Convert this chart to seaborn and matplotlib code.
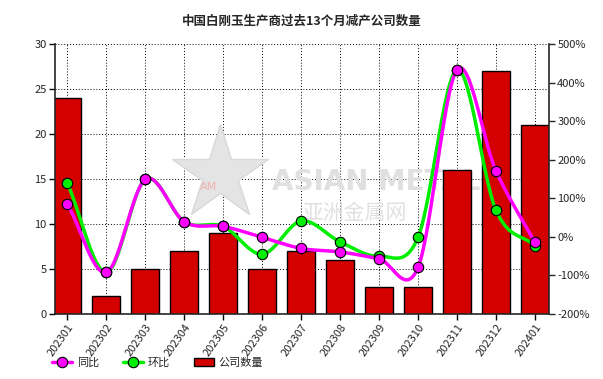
import numpy as np
import pandas as pd
import matplotlib
matplotlib.use('Agg')
import matplotlib.pyplot as plt
import seaborn as sns
from matplotlib.lines import Line2D
from matplotlib.patches import Patch
from matplotlib.ticker import FuncFormatter

months = ['202301', '202302', '202303', '202304', '202305', '202306', '202307',
          '202308', '202309', '202310', '202311', '202312', '202401']
companies = [24, 2, 5, 7, 9, 5, 7, 6, 3, 3, 16, 27, 21]
yoy = [85, -92, 149, 39, 27, -1, -30, -39, -57, -79, 433, 171, -14]   # 同比 %
mom = [139, -92, 149, 39, 27, -45, 41, -13, -50, -1, 433, 69, -23]    # 环比 %

sns.set_style('white')
plt.rcParams['font.family'] = ['Noto Sans CJK SC', 'DejaVu Sans']
plt.rcParams['axes.unicode_minus'] = False


def catmull_rom(y, n=30):
    # spline smoothing like the original chart's curved lines
    x = np.arange(len(y), dtype=float)
    y = np.asarray(y, dtype=float)
    px = np.concatenate([[2 * x[0] - x[1]], x, [2 * x[-1] - x[-2]]])
    py = np.concatenate([[2 * y[0] - y[1]], y, [2 * y[-1] - y[-2]]])
    xs, ys = [], []
    for i in range(1, len(px) - 2):
        t = np.linspace(0, 1, n, endpoint=False)
        for p, out in ((px, xs), (py, ys)):
            p0, p1, p2, p3 = p[i - 1], p[i], p[i + 1], p[i + 2]
            out.append(0.5 * ((2 * p1) + (-p0 + p2) * t + (2 * p0 - 5 * p1 + 4 * p2 - p3) * t ** 2
                              + (-p0 + 3 * p1 - 3 * p2 + p3) * t ** 3))
    xs.append([x[-1]])
    ys.append([y[-1]])
    return np.concatenate(xs), np.concatenate(ys)


df = pd.DataFrame({'month': months, 'companies': companies})

fig = plt.figure(figsize=(6.03, 3.79), dpi=100)
ax = fig.add_axes([0.0912, 0.1715, 0.8192, 0.7124])
sns.barplot(data=df, x='month', y='companies', color='#d40000', width=0.72,
            edgecolor='black', linewidth=1, saturation=1, ax=ax, zorder=2)
ax.set_xlim(-0.32, 12.36)
ax.set_ylim(0, 30)
ax.set_yticks([0, 5, 10, 15, 20, 25, 30])
ax.set_xlabel('')
ax.set_ylabel('')
ax.grid(True, color='black', linestyle=(0, (1, 2)), linewidth=0.7, zorder=0)
ax.set_axisbelow(True)
for s in ['top', 'right']:
    ax.spines[s].set_visible(False)
ax.spines['left'].set_linewidth(1.2)
ax.spines['bottom'].set_linewidth(1.2)
ax.tick_params(axis='both', direction='out', length=4, width=1, labelsize=8, color='black', pad=2)
ax.tick_params(axis='y', left=True)
ax.tick_params(axis='x', bottom=True)
plt.setp(ax.get_xticklabels(), rotation=55, ha='right', rotation_mode='anchor', fontsize=8)

# watermark
ax.plot([0.335], [0.52], marker='*', markersize=72, color='#e4e4e4', markeredgecolor='#d8d8d8',
        transform=ax.transAxes, zorder=1, clip_on=True)
ax.text(0.31, 0.47, 'AM', transform=ax.transAxes, fontsize=8, color='#f2b0b0',
        ha='center', va='center', zorder=1, family='DejaVu Sans')
ax.text(0.44, 0.49, 'ASIAN METAL', transform=ax.transAxes, fontsize=20, color='#e0e0e0',
        fontweight='bold', ha='left', va='center', zorder=1, family='Liberation Sans Narrow',
        clip_on=True)
ax.text(0.50, 0.375, '亚洲金属网', transform=ax.transAxes, fontsize=15, color='#e0e0e0',
        ha='left', va='center', zorder=1, clip_on=True)

ax2 = ax.twinx()
ax2.set_ylim(-200, 500)
ax2.set_yticks(range(-200, 501, 100))
ax2.yaxis.set_major_formatter(FuncFormatter(lambda v, p: f'{int(v)}%'))
for s in ['top', 'left', 'bottom']:
    ax2.spines[s].set_visible(False)
ax2.spines['right'].set_linewidth(1.2)
ax2.tick_params(axis='y', direction='out', length=4, width=1, labelsize=8, right=True, pad=2)

xg, yg = catmull_rom(mom)
ax2.plot(xg, yg, color='#00ee00', linewidth=2.5, zorder=3)
xm, ym = catmull_rom(yoy)
ax2.plot(xm, ym, color='#ff00ff', linewidth=2.5, zorder=4)
ax2.plot(range(len(mom)), mom, linestyle='none', marker='o', markersize=7.5,
         markerfacecolor='#00ee00', markeredgecolor='black', markeredgewidth=0.8, zorder=5)
ax2.plot(range(len(yoy)), yoy, linestyle='none', marker='o', markersize=7.5,
         markerfacecolor='#ff00ff', markeredgecolor='black', markeredgewidth=0.8, zorder=6)

fig.text(0.5, 0.945, '中国白刚玉生产商过去13个月减产公司数量', ha='center', va='center',
         fontsize=9, fontweight='bold')

handles = [
    Line2D([0], [0], color='#ff00ff', linewidth=2.5, marker='o', markersize=7.5,
           markerfacecolor='#ff00ff', markeredgecolor='black', markeredgewidth=0.8),
    Line2D([0], [0], color='#00ee00', linewidth=2.5, marker='o', markersize=7.5,
           markerfacecolor='#00ee00', markeredgecolor='black', markeredgewidth=0.8),
    Patch(facecolor='#d40000', edgecolor='black', linewidth=1),
]
fig.legend(handles, ['同比', '环比', '公司数量'], loc='center left', bbox_to_anchor=(0.07, 0.042),
           ncol=3, frameon=False, fontsize=8, handlelength=1.8, handletextpad=0.4,
           columnspacing=2.2)

plt.savefig('out.png', dpi=100)
plt.close()
